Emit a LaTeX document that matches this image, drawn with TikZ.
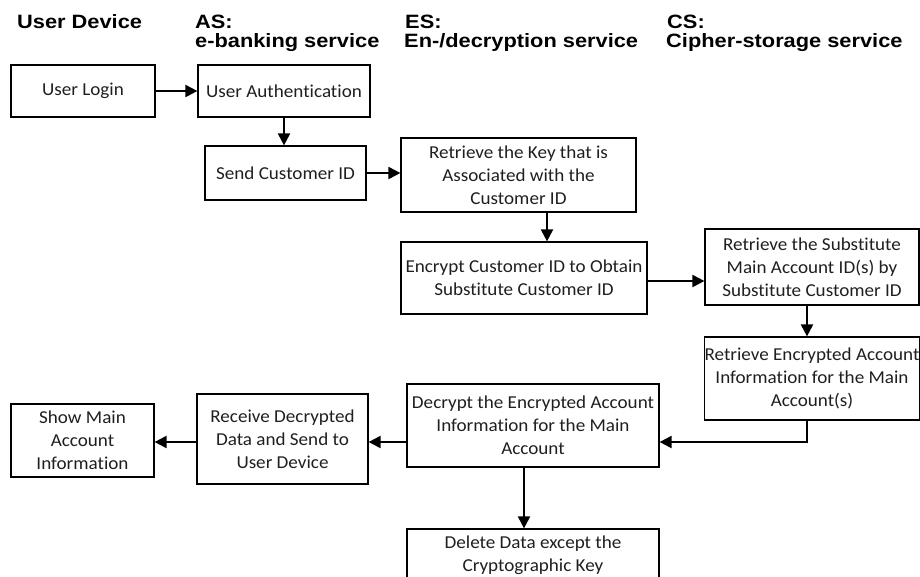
\documentclass[tikz,border=0pt]{standalone}
\usepackage{fontspec}
\usetikzlibrary{arrows.meta}
\newfontfamily\bodyfont{Carlito}[FakeStretch=1.05, Ligatures=NoCommon]
\newfontfamily\headfont{Liberation Sans}[FakeStretch=1.13]

\tikzset{
  box/.style={draw=black, line width=1.2pt, rectangle, inner sep=0pt, align=center,
    font=\bodyfont\fontsize{18.2}{23}\selectfont, text=black!88},
  head/.style={anchor=base west, inner sep=0pt,
    font=\headfont\bfseries\fontsize{19.3}{20}\selectfont},
  arr/.style={line width=2pt, -{Triangle[length=12pt,width=12pt]}},
}

\begin{document}
\begin{tikzpicture}[x=1pt,y=-1pt]
\useasboundingbox (0,0) rectangle (920,576);

% column headings
\node[head] (hud) at (17,28) {User Device};
\node[head] (has) at (195,28) {AS:};
\node[head] (hasn) at (195,47) {e-banking service};
\node[head] (hes) at (405,28) {ES:};
\node[head] (hesn) at (404,47) {En-/decryption service};
\node[head] (hcs) at (667,28) {CS:};
\node[head] (hcsn) at (666,47) {Cipher-storage service};

% process steps
\node[box, minimum width=144, minimum height=52] (login) at (83,91) {User Login};
\node[box, minimum width=172, minimum height=52] (auth) at (284,91) {User Authentication};
\node[box, minimum width=161, minimum height=54] (send) at (285.5,173) {Send Customer ID};
\node[box, minimum width=235, minimum height=74] (key) at (518.5,175)
  {Retrieve the Key that is\\Associated with the\\Customer ID};
\node[box, minimum width=246, minimum height=72] (encrypt) at (524,278)
  {Encrypt Customer ID to Obtain\\Substitute Customer ID};
\node[box, minimum width=214, minimum height=76] (subst) at (812,267)
  {Retrieve the Substitute\\Main Account ID(s) by\\Substitute Customer ID};
\node[box, minimum width=214, minimum height=83] (retenc) at (812,378.5)
  {Retrieve Encrypted Account\\Information for the Main\\Account(s)};
\node[box, minimum width=252, minimum height=83] (decrypt) at (533,425.5)
  {Decrypt the Encrypted Account\\Information for the Main\\Account};
\node[box, minimum width=171, minimum height=90] (receive) at (282.5,439)
  {Receive Decrypted\\Data and Send to\\User Device};
\node[box, minimum width=143, minimum height=73] (show) at (82.5,440.5)
  {Show Main\\Account\\Information};
\node[box, minimum width=252, minimum height=52] (delete) at (533,555)
  {Delete Data except the\\Cryptographic Key};

% guide lines for the connectors
\coordinate (kx) at (547,0);
\coordinate (ey) at (0,281);
\coordinate (cx) at (807,0);
\coordinate (ry) at (0,442);
\coordinate (dx) at (524,0);

% connectors
\draw[arr] (login) -- (auth);
\draw[arr] (auth.south) -- (auth.south |- send.north);
\draw[arr] (send.east) -- (send.east -| key.west);
\draw[arr] (key.south -| kx) -- (encrypt.north -| kx);
\draw[arr] (encrypt.east |- ey) -- (subst.west |- ey);
\draw[arr] (subst.south -| cx) -- (retenc.north -| cx);
\draw[arr] (retenc.south -| cx) |- (decrypt.east |- ry);
\draw[arr] (decrypt.west |- ry) -- (receive.east |- ry);
\draw[arr] (receive.west |- ry) -- (show.east |- ry);
\draw[arr] (decrypt.south -| dx) -- (delete.north -| dx);
\end{tikzpicture}
\end{document}
